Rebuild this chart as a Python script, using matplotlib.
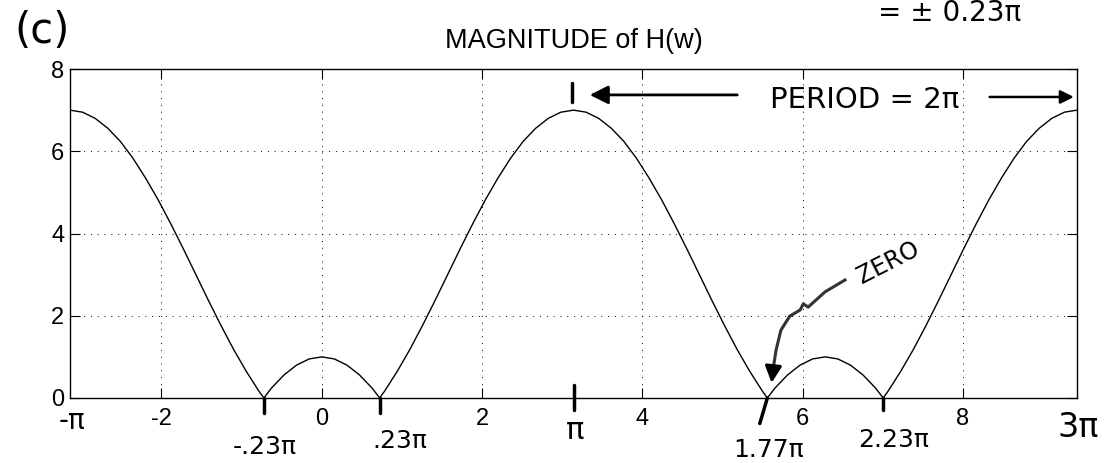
"""MAGNITUDE of H(w) with hand-written notes (period 2*pi, zeros at +-0.23*pi)."""
import numpy as np
import matplotlib
matplotlib.use("Agg")
import matplotlib.pyplot as plt

# frequency in units of pi, and |H(w)|
w_over_pi = [
    -1.00, -0.95, -0.90, -0.85, -0.80, -0.75, -0.70, -0.65, -0.60, -0.55,
    -0.50, -0.45, -0.40, -0.35, -0.30, -0.25, -0.23, -0.20, -0.15, -0.10,
    -0.05, 0.00, 0.05, 0.10, 0.15, 0.20, 0.23, 0.25, 0.30, 0.35,
    0.40, 0.45, 0.50, 0.55, 0.60, 0.65, 0.70, 0.75, 0.80, 0.85,
    0.90, 0.95, 1.00, 1.05, 1.10, 1.15, 1.20, 1.25, 1.30, 1.35,
    1.40, 1.45, 1.50, 1.55, 1.60, 1.65, 1.70, 1.75, 1.77, 1.80,
    1.85, 1.90, 1.95, 2.00, 2.05, 2.10, 2.15, 2.20, 2.23, 2.25,
    2.30, 2.35, 2.40, 2.45, 2.50, 2.55, 2.60, 2.65, 2.70, 2.75,
    2.80, 2.85, 2.90, 2.95, 3.00,
]
magnitude = [
    7.00, 6.95, 6.80, 6.56, 6.24, 5.83, 5.35, 4.82, 4.24, 3.63,
    3.00, 2.37, 1.76, 1.18, 0.65, 0.17, 0.00, 0.24, 0.56, 0.80,
    0.95, 1.00, 0.95, 0.80, 0.56, 0.24, 0.00, 0.17, 0.65, 1.18,
    1.76, 2.37, 3.00, 3.63, 4.24, 4.82, 5.35, 5.83, 6.24, 6.56,
    6.80, 6.95, 7.00, 6.95, 6.80, 6.56, 6.24, 5.83, 5.35, 4.82,
    4.24, 3.63, 3.00, 2.37, 1.76, 1.18, 0.65, 0.17, 0.00, 0.24,
    0.56, 0.80, 0.95, 1.00, 0.95, 0.80, 0.56, 0.24, 0.00, 0.17,
    0.65, 1.18, 1.76, 2.37, 3.00, 3.63, 4.24, 4.82, 5.35, 5.83,
    6.24, 6.56, 6.80, 6.95, 7.00,
]
x_ticks = [-2, 0, 2, 4, 6, 8]
y_ticks = [0, 2, 4, 6, 8]

# hand-written labels under the axis
hand_marks = ["-\u03c0", "-.23\u03c0", ".23\u03c0", "\u03c0", "1.77\u03c0", "2.23\u03c0", "3\u03c0"]

plt.rcParams["font.family"] = ["Liberation Sans", "DejaVu Sans"]
plt.rcParams["axes.unicode_minus"] = False
plt.rcParams["xtick.labelsize"] = 17
plt.rcParams["ytick.labelsize"] = 17

HAND = dict(family="DejaVu Sans", color="black", clip_on=False)

fig = plt.figure(figsize=(11.07, 4.63), dpi=100)
ax = fig.add_axes([70 / 1107, 1 - 398 / 463, 1007 / 1107, 329 / 463])

w = np.array(w_over_pi) * np.pi
ax.plot(w, magnitude, color="black", lw=1.0)

ax.set_xlim(-np.pi, 3 * np.pi)
ax.set_ylim(0, 8)
ax.set_xticks(x_ticks)
ax.set_yticks(y_ticks)
ax.grid(True, color="black", lw=0.7, ls=(0, (1, 6)))
ax.tick_params(direction="in", length=7, width=0.8, top=True, right=True)
ax.tick_params(axis="x", pad=7)
ax.tick_params(axis="y", pad=4)
for s in ax.spines.values():
    s.set_linewidth(1.0)
ax.set_title("MAGNITUDE of H(w)", fontsize=19.5, pad=15)

# ---- hand-drawn notes ----
fig.text(42 / 1107, 1 - 31 / 463, "(c)", fontsize=30, ha="center", va="center",
         family="DejaVu Sans")
fig.text(950 / 1107, 1 - 13 / 463, "= \u00b1 0.23\u03c0", fontsize=20, ha="center",
         va="center", family="DejaVu Sans")

# short thick ticks at the zeros / peaks
for xm, y1 in [(-0.23, -0.37), (0.23, -0.37), (2.23, -0.30)]:
    ax.plot([xm * np.pi, xm * np.pi], [0, y1], color="black", lw=2.5,
            clip_on=False, solid_capstyle="round")
ax.plot([np.pi, np.pi], [0.32, -0.29], color="black", lw=2.5, clip_on=False,
        solid_capstyle="round")
ax.plot([1.77 * np.pi, 1.74 * np.pi], [0.0, -0.62], color="black", lw=2.5,
        clip_on=False, solid_capstyle="round")

label_pos = [(-3.12, -0.56, 20), (-0.71, -1.19, 18), (0.98, -1.05, 18),
             (3.16, -0.80, 22), (5.57, -1.26, 18), (7.13, -1.02, 18),
             (9.44, -0.71, 24)]
for txt, (xp, yp, fs) in zip(hand_marks, label_pos):
    ax.text(xp, yp, txt, fontsize=fs, ha="center", va="center", **HAND)

# period arrows
ax.text(6.78, 7.25, "PERIOD = 2\u03c0", fontsize=21, ha="center", va="center", **HAND)
ax.annotate("", xy=(3.31, 7.37), xytext=(5.22, 7.37),
            arrowprops=dict(arrowstyle="-|>", lw=2, color="black", mutation_scale=28))
ax.annotate("", xy=(9.42, 7.32), xytext=(8.30, 7.32), annotation_clip=False,
            arrowprops=dict(arrowstyle="-|>", lw=1.8, color="black", mutation_scale=20))
ax.plot([3.12, 3.12], [7.66, 7.20], color="black", lw=2.5, solid_capstyle="round")

# zero note with squiggly arrow
ax.text(7.07, 3.28, "ZERO", fontsize=17, rotation=27, ha="center", va="center", **HAND)
sq_x = [6.53, 6.28, 6.07, 6.01, 5.97, 5.84, 5.73, 5.67, 5.64]
sq_y = [2.87, 2.58, 2.21, 2.29, 2.14, 1.99, 1.65, 1.17, 0.80]
ax.plot(sq_x, sq_y, color="#333333", lw=2.2)
ax.annotate("", xy=(5.61, 0.30), xytext=(5.64, 0.85),
            arrowprops=dict(arrowstyle="-|>", lw=2.2, color="black", mutation_scale=25))

fig.savefig("out.png", dpi=100)
